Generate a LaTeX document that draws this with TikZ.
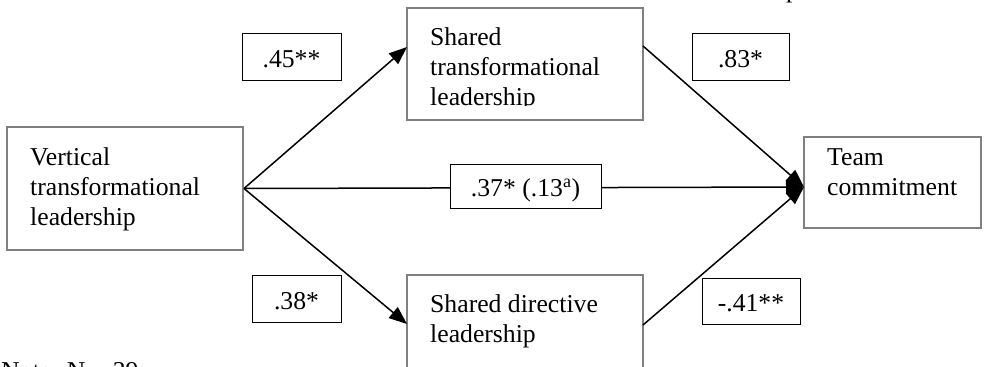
\documentclass[tikz,border=0pt]{standalone}
\usepackage{fontspec}
\setmainfont{Liberation Serif}
\usetikzlibrary{arrows.meta}
\begin{document}
\begin{tikzpicture}[x=1pt,y=-1pt,
  every node/.style={font=\fontsize{25.7}{30}\selectfont},
  varbox/.style={draw=black!50, line width=2pt, inner sep=0pt, fill=white},
  coefbox/.style={draw=black, line width=1pt, inner sep=0pt, fill=white,
    text height=21pt, text depth=0pt},
  txt/.style={inner sep=0pt, anchor=base west, align=left},
  effect/.style={line width=1.5pt, -{Triangle[length=18pt,width=14pt]}}]
\useasboundingbox (0,0) rectangle (989,367);
\clip (0,0) rectangle (989,367);

% variable boxes
\node[varbox, minimum width=236pt, minimum height=123pt] (vtl) at (125,188.5) {};
\node[varbox, minimum width=236pt, minimum height=112pt] (stl) at (525,64) {};
\node[varbox, minimum width=236pt, minimum height=115pt] (sdl) at (525,332.5) {};
\node[varbox, minimum width=177pt, minimum height=91pt] (tc) at (892.5,182.5) {};

% box texts (anchored at the baseline of the last line)
\node[txt] (vtlt) at (30,225) {Vertical\\transformational\\leadership};
\begin{scope}
  \clip (407,8) rectangle (643,105);
  \node[txt] (stlt) at (430,105) {Shared\\transformational\\leadership};
\end{scope}
\node[txt] (sdlt) at (430,342) {Shared directive\\leadership};
\node[txt] (tct) at (827,195) {Team\\commitment};

% connector end points
\coordinate (stlin) at (407,47);
\coordinate (sdlin) at (407,324);
\coordinate (tcin) at (804,187);
\coordinate (stlout) at (643,46);
\coordinate (sdlout) at (643,325);

% paths
\draw[effect] (vtl.east) -- (stlin);
\draw[effect] (vtl.east) -- (sdlin);
\draw[effect] (vtl.east) -- (tcin);
\draw[effect] (stlout) -- (tcin);
\draw[effect] (sdlout) -- (tcin);

% coefficients
\node[coefbox, minimum width=99pt, minimum height=47pt] (c1) at (291.5,56.5) {.45**};
\node[coefbox, minimum width=97pt, minimum height=47pt] (c2) at (740.5,56.5) {.83*};
\node[coefbox, minimum width=151pt, minimum height=44pt] (c3) at (525.5,186) {.37* (.13\textsuperscript{a})};
\node[coefbox, minimum width=89pt, minimum height=47pt] (c4) at (296.5,298.5) {.38*};
\node[coefbox, minimum width=98pt, minimum height=46pt] (c5) at (751,301) {-.41**};

% note and stray line above
\node[txt] (note) at (1,379) {Note: N = 39};
\node[txt] (ptop) at (786,-3) {p};
\end{tikzpicture}
\end{document}
